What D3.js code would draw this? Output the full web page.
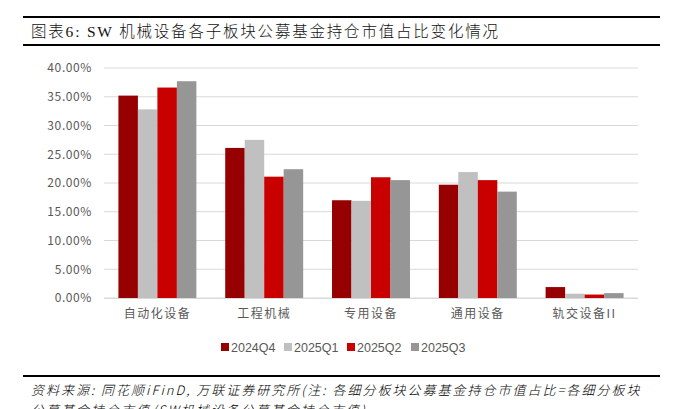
<!DOCTYPE html>
<html><head><meta charset="utf-8">
<script src="https://cdn.jsdelivr.net/npm/d3@7"></script>
<style>body{margin:0;background:#fff}svg{display:block}</style>
</head><body><svg id="c" width="675" height="409"></svg>
<script>
const categories = ["自动化设备","工程机械","专用设备","通用设备","轨交设备II"];
const seriesNames = ["2024Q4","2025Q1","2025Q2","2025Q3"];
const s2024Q4 = [35.2, 26.1, 17.0, 19.7, 1.9];
const s2025Q1 = [32.8, 27.5, 16.9, 21.9, 0.75];
const s2025Q2 = [36.6, 21.1, 21.0, 20.5, 0.6];
const s2025Q3 = [37.7, 22.4, 20.5, 18.5, 0.85];
const yTicks = [0,5,10,15,20,25,30,35,40];
const colors = ["#960000","#c0c0c0","#c80000","#969696"];
const series = [s2024Q4,s2025Q1,s2025Q2,s2025Q3];

const svg = d3.select("#c");
const cjk = "'Noto Sans CJK SC','Noto Sans',sans-serif";

// header rules and title
svg.append("rect").attr("x",23).attr("y",16).attr("width",637).attr("height",2).attr("fill","#000");
svg.append("rect").attr("x",23).attr("y",44).attr("width",637).attr("height",2).attr("fill","#000");
svg.append("text").attr("x",31).attr("y",37).attr("font-family","'Liberation Serif','Noto Sans CJK SC',serif")
  .attr("font-size",15.5).attr("font-weight",300).attr("letter-spacing","1.8px").attr("fill","#111")
  .text("图表6:  SW 机械设备各子板块公募基金持仓市值占比变化情况");

const x0 = d3.scaleBand().domain(categories).range([104,638]).paddingInner(0.27).paddingOuter(0.135);
const x1 = d3.scaleBand().domain(seriesNames).range([0,x0.bandwidth()]);
const y = d3.scaleLinear().domain([0,40]).range([298,68]);

// grid
svg.append("g").selectAll("line").data(yTicks).join("line")
  .attr("x1",104).attr("x2",638).attr("y1",d=>y(d)).attr("y2",d=>y(d))
  .attr("stroke","#d9d9d9").attr("stroke-width",1);

// y axis labels
const yAxis = d3.axisLeft(y).tickValues(yTicks).tickFormat(d=>d3.format(".2f")(d)+"%").tickSize(0).tickPadding(0);
const ga = svg.append("g").attr("transform","translate(92,0)").call(yAxis);
ga.select(".domain").remove();
ga.selectAll("text").attr("font-family",cjk).attr("font-size",12).attr("fill","#595959").attr("letter-spacing","0.6px");

// bars
const g = svg.append("g");
categories.forEach((c,i)=>{
  seriesNames.forEach((s,j)=>{
    g.append("rect").attr("x",x0(c)+x1(s)).attr("width",x1.bandwidth())
      .attr("y",y(series[j][i])).attr("height",y(0)-y(series[j][i]))
      .attr("fill",colors[j]);
  });
});

// baseline
svg.append("line").attr("x1",104).attr("x2",638).attr("y1",298.5).attr("y2",298.5).attr("stroke","#d9d9d9");

// category labels
const xAxis = d3.axisBottom(x0).tickSize(0).tickPadding(0);
const gx = svg.append("g").attr("transform","translate(0,309)").call(xAxis);
gx.select(".domain").remove();
gx.selectAll("text").attr("font-family",cjk).attr("font-size",12).attr("fill","#595959").attr("letter-spacing","1.5px").attr("dy","0.71em");

// legend
const legX = [221,284,347,411];
const lg = svg.append("g");
seriesNames.forEach((s,j)=>{
  lg.append("rect").attr("x",legX[j]).attr("y",343).attr("width",8).attr("height",8).attr("fill",colors[j]);
  lg.append("text").attr("x",legX[j]+10).attr("y",352).attr("font-family","'Liberation Sans',Arial,sans-serif")
    .attr("font-size",12.5).attr("fill","#595959").text(s);
});

// footer
svg.append("rect").attr("x",23).attr("y",375).attr("width",637).attr("height",2).attr("fill","#000");
svg.append("text").attr("x",31).attr("y",395).attr("font-family",cjk).attr("font-style","italic")
  .attr("font-size",13).attr("font-weight",300).attr("letter-spacing","2px").attr("fill","#000")
  .text("资料来源: 同花顺iFinD, 万联证券研究所(注: 各细分板块公募基金持仓市值占比=各细分板块");
svg.append("text").attr("x",31).attr("y",415).attr("font-family",cjk).attr("font-style","italic")
  .attr("font-size",13).attr("font-weight",300).attr("letter-spacing","2px").attr("fill","#000")
  .text("公募基金持仓市值/SW机械设备公募基金持仓市值)");
</script></body></html>
